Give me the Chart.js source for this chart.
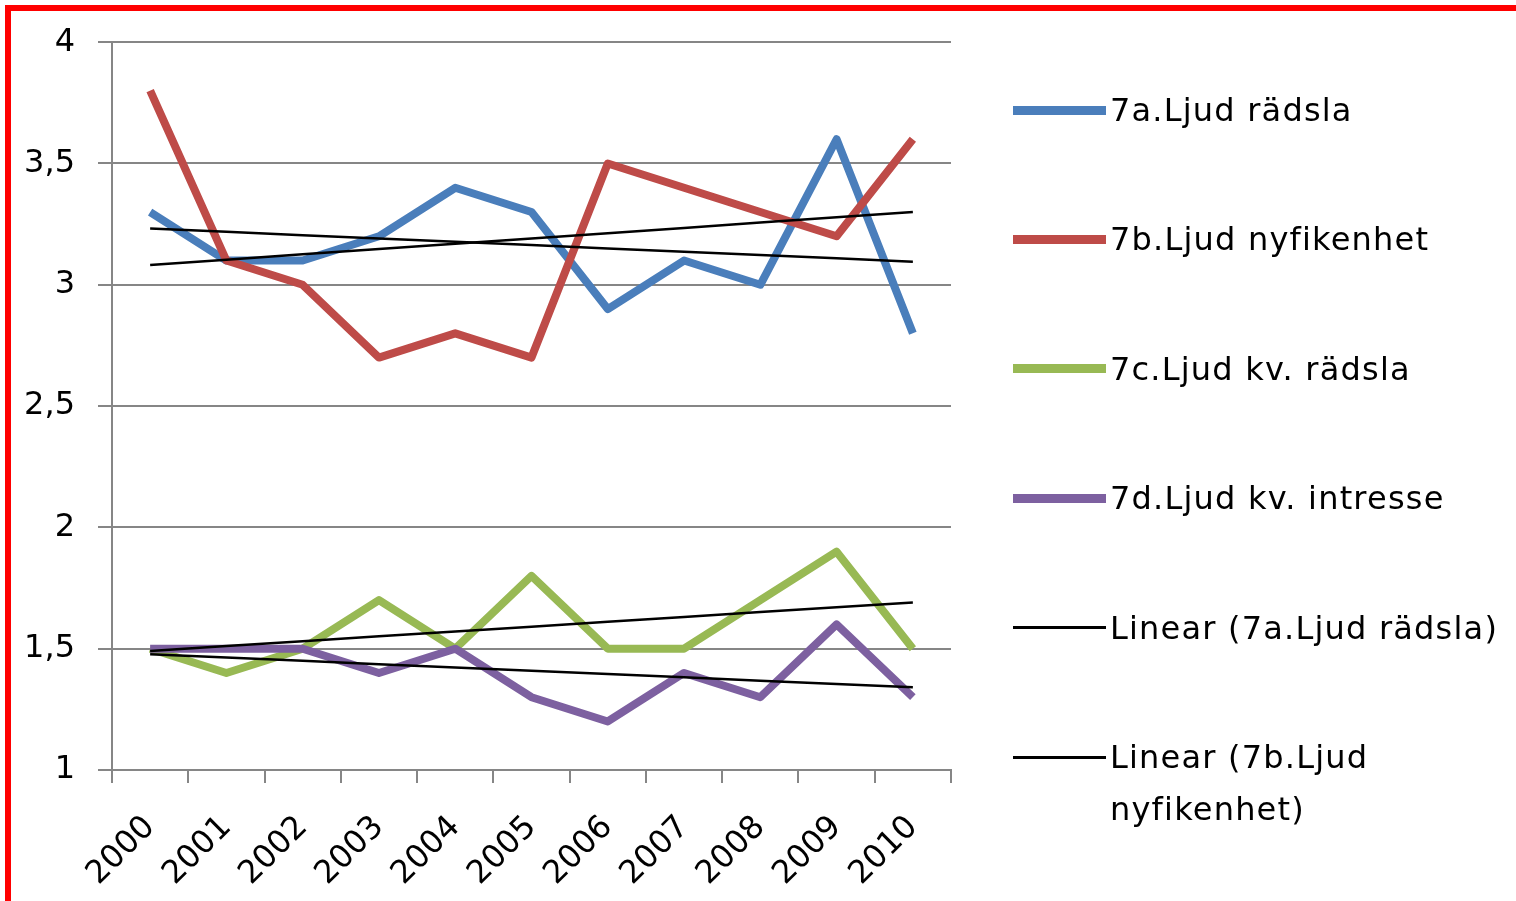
<!DOCTYPE html>
<html>
<head>
    <title>Ljud</title>
    <script src="https://cdn.jsdelivr.net/npm/chart.js"></script>
    <style>
        body {
            margin: 0;
            background: #fff;
        }
        #wrap {
            position: relative;
            width: 1516px;
            height: 901px;
            overflow: hidden;
        }
        #frame {
            position: absolute;
            left: 5px;
            top: 5px;
            right: 0;
            bottom: 0;
            border-top: 6px solid #ff0000;
            border-left: 6px solid #ff0000;
            pointer-events: none;
        }
        .item {
            position: absolute;
            left: 1013px;
            height: 52px;
            font-family: 'DejaVu Sans', sans-serif;
            font-size: 32px;
            line-height: 52px;
            letter-spacing: 1.2px;
            color: #000;
        }
        .item .mark {
            position: absolute;
            left: 0;
            width: 93px;
        }
        .item .text {
            position: absolute;
            left: 97px;
            width: 410px;
            white-space: normal;
        }
    </style>
</head>
<body>
    <div id="wrap">
        <canvas id="lineChart" width="1516" height="901"></canvas>
        <div id="legend"></div>
        <div id="frame"></div>
    </div>

    <script>
        const years = ['2000', '2001', '2002', '2003', '2004', '2005', '2006', '2007', '2008', '2009', '2010'];

        const ljudRadsla     = [3.3, 3.1, 3.1, 3.2, 3.4, 3.3, 2.9, 3.1, 3.0, 3.6, 2.8];
        const ljudNyfikenhet = [3.8, 3.1, 3.0, 2.7, 2.8, 2.7, 3.5, 3.4, 3.3, 3.2, 3.6];
        const kvRadsla       = [1.5, 1.4, 1.5, 1.7, 1.5, 1.8, 1.5, 1.5, 1.7, 1.9, 1.5];
        const kvIntresse     = [1.5, 1.5, 1.5, 1.4, 1.5, 1.3, 1.2, 1.4, 1.3, 1.6, 1.3];

        const yTicks = [1, 1.5, 2, 2.5, 3, 3.5, 4];

        // least squares line through a series, same as Excel's linear trendline
        function linearTrend(values) {
            const n = values.length;
            const meanX = (n - 1) / 2;
            const meanY = values.reduce((s, v) => s + v, 0) / n;
            let sxy = 0, sxx = 0;
            values.forEach((v, i) => {
                sxy += (i - meanX) * (v - meanY);
                sxx += (i - meanX) * (i - meanX);
            });
            const slope = sxy / sxx;
            return values.map((v, i) => meanY + slope * (i - meanX));
        }

        function series(label, data, color, order) {
            return {
                label: label,
                data: data,
                borderColor: color,
                backgroundColor: color,
                borderWidth: 8,
                pointRadius: 0,
                tension: 0,
                borderJoinStyle: 'round',
                order: order,
                legendWidth: 9
            };
        }

        function trend(label, data, showInLegend) {
            return {
                label: label,
                data: linearTrend(data),
                borderColor: '#000000',
                backgroundColor: '#000000',
                borderWidth: 2.5,
                pointRadius: 0,
                order: 0,
                showInLegend: showInLegend,
                legendWidth: 3
            };
        }

        const datasets = [
            series('7a.Ljud rädsla', ljudRadsla, '#4a7ebb', 4),
            series('7b.Ljud nyfikenhet', ljudNyfikenhet, '#be4b48', 3),
            series('7c.Ljud kv. rädsla', kvRadsla, '#98b954', 2),
            series('7d.Ljud kv. intresse', kvIntresse, '#7d60a0', 1),
            trend('Linear (7a.Ljud rädsla)', ljudRadsla, true),
            trend('Linear (7b.Ljud nyfikenhet)', ljudNyfikenhet, true),
            trend('Linear (7c.Ljud kv. rädsla)', kvRadsla, false),
            trend('Linear (7d.Ljud kv. intresse)', kvIntresse, false)
        ];

        Chart.defaults.font.family = "'DejaVu Sans', sans-serif";
        Chart.defaults.font.size = 32;
        Chart.defaults.color = '#000';

        const gridColor = '#868686';

        const ctx = document.getElementById('lineChart');
        new Chart(ctx, {
            type: 'line',
            data: {
                labels: years,
                datasets: datasets
            },
            options: {
                responsive: false,
                animation: false,
                layout: {
                    padding: { top: 42, right: 565, bottom: 0, left: 0 }
                },
                plugins: {
                    legend: { display: false },
                    tooltip: { enabled: false }
                },
                scales: {
                    x: {
                        offset: true,
                        grid: {
                            offset: true,
                            drawOnChartArea: false,
                            tickLength: 13,
                            color: gridColor,
                            lineWidth: 2
                        },
                        border: { color: gridColor, width: 2 },
                        ticks: {
                            autoSkip: false,
                            minRotation: 45,
                            maxRotation: 45,
                            padding: 38,
                            font: { size: 32, lineHeight: 0.1 }
                        },
                        afterFit: function(scale) {
                            scale.height = 131;
                        }
                    },
                    y: {
                        min: yTicks[0],
                        max: yTicks[yTicks.length - 1],
                        afterBuildTicks: function(scale) {
                            scale.ticks = yTicks.map(v => ({ value: v }));
                        },
                        grid: {
                            color: gridColor,
                            lineWidth: 2,
                            tickLength: 14
                        },
                        border: { color: gridColor, width: 2 },
                        ticks: {
                            padding: 23,
                            callback: function(value) {
                                return String(value).replace('.', ',');
                            }
                        },
                        afterFit: function(scale) {
                            scale.width = 112;
                        }
                    }
                }
            }
        });

        // legend on the right, built from the datasets
        const legend = document.getElementById('legend');
        datasets.filter(d => d.showInLegend !== false).forEach((d, i) => {
            const item = document.createElement('div');
            item.className = 'item';
            item.style.top = (110 + i * 129.4 - 26) + 'px';

            const mark = document.createElement('div');
            mark.className = 'mark';
            mark.style.height = d.legendWidth + 'px';
            mark.style.top = (26 - d.legendWidth / 2) + 'px';
            mark.style.background = d.borderColor;

            const text = document.createElement('div');
            text.className = 'text';
            text.textContent = d.label;

            item.appendChild(mark);
            item.appendChild(text);
            legend.appendChild(item);
        });
    </script>
</body>
</html>
